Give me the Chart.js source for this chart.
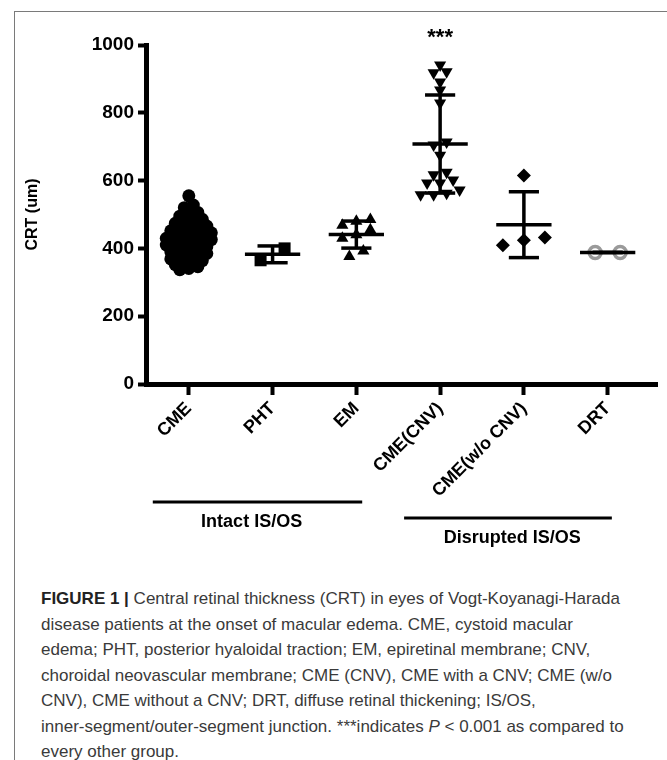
<!DOCTYPE html>
<html>
<head>
<meta charset="utf-8">
<script src="https://cdn.jsdelivr.net/npm/chart.js@4.4.0/dist/chart.umd.min.js"></script>
<style>
  body { margin: 0; background: #fff; width: 667px; height: 760px; overflow: hidden; position: relative; }
  #frame { position: absolute; left: 14px; top: 11px; width: 720px; height: 800px;
           border-left: 1px solid #7a7a7a; border-top: 1px solid #7a7a7a; }
  #crtChart { position: absolute; left: 0; top: 0; }
  #caption { position: absolute; left: 41px; top: 586px; font-family: "Liberation Sans", Arial, sans-serif;
             font-size: 17px; line-height: 25.5px; color: #3a3a3a; white-space: nowrap; }
  #caption b { color: #222; }
</style>
</head>
<body>
<div id="frame"></div>
<canvas id="crtChart" width="667" height="555"></canvas>
<div id="caption">
<b>FIGURE 1 |</b> Central retinal thickness (CRT) in eyes of Vogt-Koyanagi-Harada<br>
disease patients at the onset of macular edema. CME, cystoid macular<br>
edema; PHT, posterior hyaloidal traction; EM, epiretinal membrane; CNV,<br>
choroidal neovascular membrane; CME (CNV), CME with a CNV; CME (w/o<br>
CNV), CME without a CNV; DRT, diffuse retinal thickening; IS/OS,<br>
inner-segment/outer-segment junction. ***indicates <i>P</i> &lt; 0.001 as compared to<br>
every other group.
</div>
<script>
// groups on the x axis
const categories = ["CME", "PHT", "EM", "CME(CNV)", "CME(w/o CNV)", "DRT"];

// CRT (um) of each eye
const cmeValues = [555, 528, 520, 506, 500, 495, 486, 482, 478, 474,
  466, 463, 460, 456, 452, 446, 443, 440, 437, 434, 430,
  426, 423, 420, 417, 413, 410, 405, 401, 398, 394, 390,
  385, 381, 377, 373, 369, 364, 360, 356, 352, 346, 341, 337];
const phtValues = [400, 365];
const emValues = [485, 480, 468, 455, 440, 430, 392, 376];
const cnvValues = [941, 921, 918, 891, 867, 829, 714, 705, 675,
  625, 617, 602, 593, 593, 572, 563, 558, 558];
const woCnvValues = [615, 432, 424, 409];
const drtValues = [388, 388];

const yTicks = [0, 200, 400, 600, 800, 1000];
const groupLabels = ["Intact IS/OS", "Disrupted IS/OS"];
const groupSpans = [[0, 2], [3, 5]];
const starLabel = "***";
const starGroup = 3;

const allGroups = [cmeValues, phtValues, emValues, cnvValues, woCnvValues, drtValues];

// marker look for each group (spacing / rowH in px, used for the dot spread)
const looks = [
  { style: "circle",   r: 6.5, rot: 0,   fill: "#000", line: "#000", bw: 0,   spacing: 9,  rowH: 6 },
  { style: "rect",     r: 8.5, rot: 0,   fill: "#000", line: "#000", bw: 0,   spacing: 24, rowH: 14 },
  { style: "triangle", r: 7,   rot: 0,   fill: "#000", line: "#000", bw: 0,   spacing: 14, rowH: 10 },
  { style: "triangle", r: 7,   rot: 180, fill: "#000", line: "#000", bw: 0,   spacing: 13, rowH: 6 },
  { style: "rectRot",  r: 7,   rot: 0,   fill: "#000", line: "#000", bw: 0,   spacing: 21, rowH: 8 },
  { style: "circle",   r: 6,   rot: 0,   fill: "#fff", line: "#9a9a9a", bw: 3.5, spacing: 25, rowH: 10 }
];

const FONT = "'Liberation Sans', Arial, sans-serif";

function mean(a) { return a.reduce((s, v) => s + v, 0) / a.length; }
function sd(a) {
  if (a.length < 2) return 0;
  const m = mean(a);
  return Math.sqrt(a.reduce((s, v) => s + (v - m) * (v - m), 0) / (a.length - 1));
}

const datasets = [];
allGroups.forEach((vals, i) => {
  const lk = looks[i];
  datasets.push({
    label: categories[i],
    data: vals.map(v => ({ x: i, y: v })),
    pointStyle: lk.style,
    pointRadius: lk.r,
    pointRotation: lk.rot,
    pointBackgroundColor: lk.fill,
    pointBorderColor: lk.line,
    pointBorderWidth: lk.bw,
    showLine: false,
    clip: false,
    order: 1
  });
});

// mean and SD bars, drawn as short line segments on top of the dots
allGroups.forEach((vals, i) => {
  const m = mean(vals), s = sd(vals);
  const segs = [
    [[i - 0.33, m], [i + 0.33, m]],
    [[i, m - s], [i, m + s]],
    [[i - 0.18, m + s], [i + 0.18, m + s]],
    [[i - 0.18, m - s], [i + 0.18, m - s]]
  ];
  segs.forEach(seg => {
    datasets.push({
      data: seg.map(p => ({ x: p[0], y: p[1] })),
      showLine: true,
      pointRadius: 0,
      borderColor: "#000",
      borderWidth: 3.5,
      borderCapStyle: "butt",
      clip: false,
      order: 0
    });
  });
});

const extraText = {
  id: "extraText",
  afterDraw(chart) {
    const ctx = chart.ctx;
    const xs = chart.scales.x;
    const top = chart.chartArea.top;
    ctx.save();
    ctx.fillStyle = "#000";
    ctx.textAlign = "center";
    ctx.textBaseline = "middle";
    ctx.font = "bold 22px " + FONT;
    ctx.fillText(starLabel, xs.getPixelForValue(starGroup), top - 7);

    // group brackets under the rotated labels
    const lineY = [502, 518];
    const textX = [0.75, 3.86];
    ctx.strokeStyle = "#000";
    ctx.lineWidth = 3;
    groupLabels.forEach((lab, g) => {
      const x1 = xs.getPixelForValue(groupSpans[g][0] - 0.43);
      const x2 = xs.getPixelForValue(groupSpans[g][1] + 0.07 - (g ? 0.02 : 0));
      ctx.beginPath();
      ctx.moveTo(x1, lineY[g]);
      ctx.lineTo(x2, lineY[g]);
      ctx.stroke();
      ctx.font = "bold 18px " + FONT;
      ctx.fillText(lab, xs.getPixelForValue(textX[g]), lineY[g] + 20);
    });
    ctx.restore();
  }
};

const crtChart = new Chart(document.getElementById("crtChart").getContext("2d"), {
  type: "scatter",
  data: { datasets: datasets },
  options: {
    responsive: false,
    animation: false,
    layout: { padding: { top: 45, right: 4, left: 0, bottom: 0 } },
    plugins: { legend: { display: false }, tooltip: { enabled: false } },
    scales: {
      x: {
        type: "linear",
        min: -0.511,
        max: 5.595,
        afterBuildTicks: (s) => { s.ticks = categories.map((c, i) => ({ value: i })); },
        afterFit: (s) => { s.height = 555 - 384; },
        grid: { drawOnChartArea: false, drawTicks: true, tickLength: 11, tickWidth: 4, tickColor: "#000" },
        border: { display: true, color: "#000", width: 5 },
        ticks: {
          autoSkip: false, minRotation: 45, maxRotation: 45, padding: 3, color: "#000",
          font: { family: FONT, size: 18, weight: "bold" },
          callback: (v) => categories[v]
        }
      },
      y: {
        min: 0,
        max: 1000,
        afterBuildTicks: (s) => { s.ticks = yTicks.map(v => ({ value: v })); },
        afterFit: (s) => { s.width = 146; },
        grid: { drawOnChartArea: false, drawTicks: true, tickLength: 8, tickWidth: 4, tickColor: "#000" },
        border: { display: true, color: "#000", width: 5 },
        ticks: {
          padding: 4, color: "#000",
          font: { family: FONT, size: 19, weight: "bold" },
          callback: (v) => String(v)
        },
        title: {
          display: true, text: "CRT (um)", color: "#000",
          font: { family: FONT, size: 16, weight: "bold" },
          padding: { top: 23, bottom: 0 }
        }
      }
    }
  },
  plugins: [extraText]
});

// spread the dots of each group sideways, row by row, like a scatter dot plot
function spreadGroup(vals, i, lk) {
  const xs = crtChart.scales.x, ys = crtChart.scales.y;
  const pxPerX = xs.getPixelForValue(1) - xs.getPixelForValue(0);
  const sorted = vals.slice().sort((a, b) => b - a);
  const rows = [];
  sorted.forEach(v => {
    const last = rows[rows.length - 1];
    if (last && ys.getPixelForValue(v) - ys.getPixelForValue(last[0]) < lk.rowH) last.push(v);
    else rows.push([v]);
  });
  const pts = [];
  rows.forEach(row => {
    row.sort((a, b) => a - b);
    row.forEach((v, j) => pts.push({ x: i + (j - (row.length - 1) / 2) * lk.spacing / pxPerX, y: v }));
  });
  return pts;
}

allGroups.forEach((vals, i) => {
  crtChart.data.datasets[i].data = spreadGroup(vals, i, looks[i]);
});
crtChart.update("none");
</script>
</body>
</html>
